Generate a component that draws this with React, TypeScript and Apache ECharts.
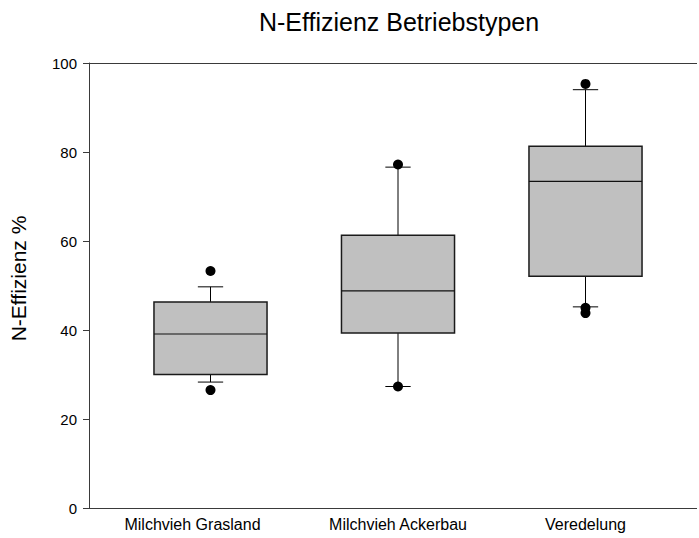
import React, { useEffect, useRef } from "react";
import * as echarts from "echarts";

const categories = ["Milchvieh Grasland", "Milchvieh Ackerbau", "Veredelung"];
const whiskerLow = [28.3, 27.3, 45.2];
const quartile1 = [30.0, 39.3, 52.1];
const medians = [39.1, 48.8, 73.4];
const quartile3 = [46.3, 61.3, 81.3];
const whiskerHigh = [49.7, 76.6, 94.0];
const outlierCategory = [0, 0, 1, 1, 2, 2, 2];
const outlierValues = [53.25, 26.5, 77.2, 27.3, 95.3, 45.0, 43.8];
const yTicks = [0, 20, 40, 60, 80, 100];

const FONT = "'Liberation Sans', Arial, sans-serif";

export default function App() {
  const ref = useRef<HTMLDivElement>(null);
  useEffect(() => {
    if (!ref.current) return;
    const chart = echarts.init(ref.current, null, { renderer: "svg" });
    const boxData = categories.map((_, i) => [
      i,
      whiskerLow[i],
      quartile1[i],
      medians[i],
      quartile3[i],
      whiskerHigh[i],
    ]);
    const outliers = outlierValues.map((v, i) => [outlierCategory[i], v]);
    const axisColor = "#3a3a3a";
    const frameLine = { show: true, lineStyle: { color: axisColor, width: 1 } };
    chart.setOption({
      animation: false,
      backgroundColor: "#ffffff",
      title: {
        text: "N-Effizienz Betriebstypen",
        left: 394,
        top: 4,
        textAlign: "center",
        textStyle: { fontFamily: FONT, fontSize: 25, fontWeight: "normal", color: "#000" },
      },
      grid: [
        { left: 89, top: 63, width: 700, bottom: 30 },
        { left: 116.75, top: 63, width: 562.5, bottom: 30 },
      ],
      xAxis: [
        {
          gridIndex: 0,
          type: "value",
          min: 0,
          max: 1,
          position: "bottom",
          axisLine: frameLine,
          axisTick: { show: false },
          axisLabel: { show: false },
          splitLine: { show: false },
        },
        {
          gridIndex: 1,
          type: "category",
          data: categories,
          axisLine: { show: false },
          axisTick: { show: false },
          axisLabel: {
            interval: 0,
            hideOverlap: false,
            fontFamily: FONT,
            fontSize: 16,
            color: "#000",
            margin: 8,
            formatter: (v: string, idx: number) => (idx === 0 ? `{s|${v}}` : v),
            rich: {
              s: { fontFamily: FONT, fontSize: 16, color: "#000", padding: [0, 36, 0, 0] },
            },
          },
          splitLine: { show: false },
        },
        {
          gridIndex: 0,
          type: "value",
          min: 0,
          max: 1,
          position: "top",
          axisLine: frameLine,
          axisTick: { show: false },
          axisLabel: { show: false },
          splitLine: { show: false },
        },
      ],
      yAxis: [
        {
          gridIndex: 0,
          type: "value",
          min: 0,
          max: 100,
          interval: 20,
          name: "N-Effizienz %",
          nameLocation: "middle",
          nameGap: 60,
          nameTextStyle: { fontFamily: FONT, fontSize: 21, color: "#000", padding: [0, 0, 0, 14] },
          axisLine: frameLine,
          axisTick: { show: true, inside: false, length: 6, lineStyle: { color: axisColor } },
          axisLabel: {
            fontFamily: FONT,
            fontSize: 15,
            color: "#000",
            margin: 12,
            formatter: (v: number) => (yTicks.includes(v) ? String(v) : ""),
          },
          splitLine: { show: false },
        },
        { gridIndex: 1, type: "value", min: 0, max: 100, show: false },
      ],
      graphic: [
        {
          type: "rect",
          right: 0,
          top: 58,
          shape: { width: 2, height: 456 },
          style: { fill: "#ffffff" },
          z: 100,
        },
      ],
      series: [
        {
          type: "custom",
          xAxisIndex: 1,
          yAxisIndex: 1,
          data: boxData,
          renderItem: (params: any, api: any) => {
            const x = api.value(0);
            const low = api.coord([x, api.value(1)]);
            const q1 = api.coord([x, api.value(2)]);
            const med = api.coord([x, api.value(3)]);
            const q3 = api.coord([x, api.value(4)]);
            const high = api.coord([x, api.value(5)]);
            const band = api.size([1, 0])[0];
            const bw = band * 0.603;
            const cw = band * 0.135;
            const cx = low[0];
            const ls = { stroke: "#000", lineWidth: 1 };
            return {
              type: "group",
              children: [
                { type: "line", shape: { x1: cx, y1: high[1], x2: cx, y2: q3[1] }, style: ls },
                { type: "line", shape: { x1: cx, y1: q1[1], x2: cx, y2: low[1] }, style: ls },
                { type: "line", shape: { x1: cx - cw / 2, y1: high[1], x2: cx + cw / 2, y2: high[1] }, style: ls },
                { type: "line", shape: { x1: cx - cw / 2, y1: low[1], x2: cx + cw / 2, y2: low[1] }, style: ls },
                {
                  type: "rect",
                  shape: { x: cx - bw / 2, y: q3[1], width: bw, height: q1[1] - q3[1] },
                  style: { fill: "#c0c0c0", stroke: "#1a1a1a", lineWidth: 1.5 },
                },
                { type: "line", shape: { x1: cx - bw / 2, y1: med[1], x2: cx + bw / 2, y2: med[1] }, style: { stroke: "#111", lineWidth: 1.2 } },
              ],
            };
          },
          z: 2,
        },
        {
          type: "scatter",
          xAxisIndex: 1,
          yAxisIndex: 1,
          data: outliers,
          symbol: "circle",
          symbolSize: 10,
          itemStyle: { color: "#000", opacity: 1 },
          z: 3,
        },
      ],
    });
    return () => chart.dispose();
  }, []);
  return (
    <div
      ref={ref}
      style={{ position: "fixed", left: 0, top: 0, width: 699, height: 538, background: "#fff" }}
    />
  );
}
